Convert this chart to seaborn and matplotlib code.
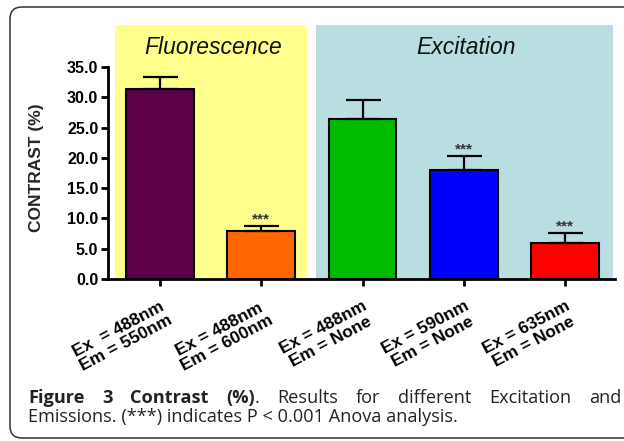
import numpy as np
import pandas as pd
import matplotlib
matplotlib.use("Agg")
import matplotlib.pyplot as plt
import matplotlib.transforms as mtransforms
from matplotlib.patches import FancyBboxPatch
import seaborn as sns

# ---------------------------------------------------------------
# Data
# ---------------------------------------------------------------
labels = ["Ex  = 488nm\nEm = 550nm", "Ex = 488nm\nEm = 600nm",
          "Ex = 488nm\nEm = None", "Ex = 590nm\nEm = None",
          "Ex = 635nm\nEm = None"]
contrast = [31.4, 8.0, 26.4, 18.0, 5.9]
error_up = [1.9, 0.8, 3.1, 2.3, 1.7]
significant = [False, True, False, True, True]
bar_colors = ["#5E0049", "#FF6600", "#00BB00", "#0000FF", "#FF0000"]
groups = ["Fluorescence", "Excitation"]
group_span = [(-0.44, 1.45), (1.54, 4.47)]
group_colors = ["#FFFF8C", "#B9DEE2"]

df = pd.DataFrame({"condition": labels, "contrast": contrast})

# ---------------------------------------------------------------
# Figure
# ---------------------------------------------------------------
sns.set_theme(style="ticks")
plt.rcParams["font.family"] = ["Liberation Sans", "DejaVu Sans"]

W, H = 624, 441
fig = plt.figure(figsize=(W / 100, H / 100), dpi=100)
fig.patch.set_facecolor("white")
ax = fig.add_axes([108 / W, 1 - 279 / H, (615 - 108) / W, (279 - 24.6) / H])

# coloured group backgrounds
for (x0, x1), col in zip(group_span, group_colors):
    ax.axvspan(x0, x1, ymin=0, ymax=1, color=col, zorder=0, lw=0)

sns.barplot(data=df, x="condition", y="contrast", hue="condition",
            palette=bar_colors, legend=False, width=0.67,
            edgecolor="black", linewidth=1.5, saturation=1, ax=ax, zorder=2)

x = np.arange(len(contrast))
ax.errorbar(x, contrast, yerr=[np.zeros(len(contrast)), error_up], fmt="none",
            ecolor="black", elinewidth=1.6, capsize=12.6, capthick=1.6, zorder=3)

for xi, v, e, s in zip(x, contrast, error_up, significant):
    if s:
        ax.text(xi, v + e + 0.35, "***", ha="center", va="baseline",
                fontsize=11, fontweight="bold", color="#333333", zorder=4)

for name, (x0, x1) in zip(groups, group_span):
    ax.text((x0 + x1) / 2 + 0.02, 38.3, name, ha="center", va="center",
            fontsize=16.5, fontstyle="italic", color="#111111")

ax.set_xlim(-0.51, 4.49)
ax.set_ylim(0, 42)
ax.set_yticks(np.arange(0, 35.1, 5))
ax.set_yticklabels([f"{t:.1f}" for t in np.arange(0, 35.1, 5)],
                   fontsize=11.5, fontweight="bold")
ax.set_xticks(x)
ax.set_xticklabels(labels, rotation=28, ha="right", va="top",
                   rotation_mode="anchor", fontsize=12.5, fontweight="bold",
                   multialignment="center", linespacing=1.1)
ax.set_xlabel("")
ax.set_ylabel("CONTRAST (%)", fontsize=12.5, fontweight="bold")
ax.yaxis.set_label_coords(-64 / (615 - 108), (279 - 168) / (279 - 24.6))

ax.set_facecolor("white")
sns.despine(ax=ax)
ax.spines["left"].set_bounds(0, 35)
for sp in ("left", "bottom"):
    ax.spines[sp].set_linewidth(2)
    ax.spines[sp].set_color("black")
ax.tick_params(axis="y", length=5, width=2, pad=2, colors="black")
ax.tick_params(axis="x", length=5, width=2, pad=9, colors="black")

# ---------------------------------------------------------------
# Frame and caption
# ---------------------------------------------------------------
px = mtransforms.Affine2D().scale(1 / W, 1 / H) + fig.transFigure
frame = FancyBboxPatch((10, 3), 700, 431, boxstyle="round,pad=0,rounding_size=12",
                       transform=px, fill=False, edgecolor="#333333", lw=1.1)
fig.add_artist(frame)

cap_font = ["Open Sans", "DejaVu Sans"]
cap_size = 13.1
line1 = [[("Figure", "bold")], [("3", "bold")], [("Contrast", "bold")],
         [("(%)", "bold"), (".", "normal")], [("Results", "normal")],
         [("for", "normal")], [("different", "normal")],
         [("Excitation", "normal")], [("and", "normal")]]
line2 = "Emissions. (***) indicates P < 0.001 Anova analysis."

x_left, x_right, base1, base2 = 28, 621, H - 403, H - 422
renderer = fig.canvas.get_renderer()

# measure words for a justified first line
word_w = []
for word in line1:
    total = 0
    for txt, wt in word:
        t = fig.text(0, 0, txt, fontsize=cap_size, fontweight=wt, family=cap_font)
        total += t.get_window_extent(renderer).width
        t.remove()
    word_w.append(total)
gap = (x_right - x_left - sum(word_w)) / (len(line1) - 1)

cx = x_left
for word, ww in zip(line1, word_w):
    px_x = cx
    for txt, wt in word:
        t = fig.text(px_x, base1, txt, fontsize=cap_size, fontweight=wt,
                     family=cap_font, color="#222222", va="baseline",
                     transform=px)
        px_x += t.get_window_extent(renderer).width
    cx += ww + gap

fig.text(x_left, base2, line2, fontsize=cap_size, family=cap_font,
         color="#222222", va="baseline", transform=px)

fig.savefig("out.png", dpi=100, facecolor="white")
